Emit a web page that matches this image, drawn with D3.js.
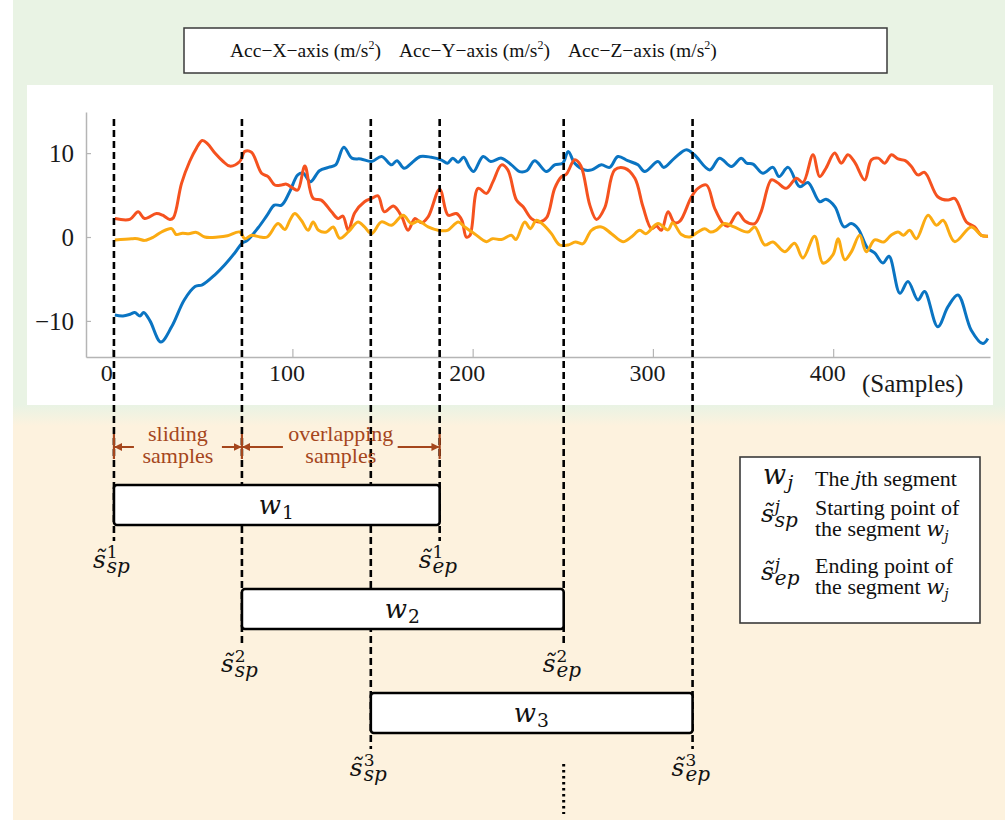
<!doctype html>
<html lang="en">
<head>
	<meta charset="UTF-8">
	<title>Sliding window segmentation</title>
	<script src="https://d3js.org/d3.v7.min.js"></script>
	<style>
		body { margin: 0; padding: 0; background: #fff; }
		svg { display: block; }
	</style>
</head>
<body>
	<div id="canvas"></div>
	<script>
		// Series: [sample, value]
		const accX = [[1.5,-9.3],[6,-9.4],[10,-9.2],[12.5,-9.0],[15.5,-9.4],[17.5,-9.0],[21,-10.0],[27,-12.5],[33,-10.7],[40,-7.5],[46,-5.9],[50,-5.7],[57,-4.5],[62.5,-3.3],[68,-1.9],[72,-0.75],[75,-0.4],[81,1.1],[86,2.6],[90,3.8],[94,3.8],[98.5,5.4],[103,7.4],[106,7.6],[110,6.6],[115,7.9],[120,8.3],[124,8.6],[128.5,10.7],[133,9.4],[138,9.3],[144,9.0],[149.5,9.6],[155,8.6],[158,9.1],[162,8.2],[166,8.8],[171,9.6],[177,9.5],[182.5,9.2],[186,8.8],[189,9.4],[192,8.9],[195,9.5],[198,8.4],[200.5,7.8],[205.8,9.6],[210,9.0],[216,9.4],[221.5,8.6],[226,7.8],[230,7.9],[234.4,9.1],[241,7.8],[245.5,8.6],[250,8.8],[253,10.2],[256.6,8.8],[262,8.0],[266,8.0],[271.4,8.6],[276,8.3],[280.6,9.6],[286,9.1],[291.7,8.6],[295.4,7.8],[302.8,9.0],[306,8.3],[312,9.4],[318.6,10.4],[323,9.8],[331.5,8.0],[337,9.4],[343.5,8.4],[349,9.4],[352,8.8],[355.5,8.7],[361,7.6],[366.6,8.3],[370,7.2],[375,8.3],[381.4,6.0],[386,6.5],[392.5,4.2],[396,4.5],[401,3.6],[406,1.2],[410,1.6],[413.8,1.0],[419,-1.3],[423,-1.9],[427.6,-3.1],[431,-2.3],[437,-6.7],[441.5,-5.3],[447,-7.5],[450.7,-6.5],[458,-10.7],[463.7,-8.3],[469.2,-6.9],[476.6,-11.1],[483,-12.7],[485.8,-12.1]];

		const accY = [[1.5,2.2],[9.8,2.1],[14.4,3.0],[18,2.2],[24.6,2.8],[28,2.6],[32,2.1],[34,2.3],[38.5,6.4],[43,9.0],[46.8,10.6],[50,11.5],[53,11.1],[57,10.0],[61.6,9.0],[65.3,8.45],[70.8,9.0],[73.6,10.2],[77.3,10.1],[82.9,7.6],[86.5,7.2],[90.2,6.2],[94,6.2],[96.7,6.3],[100.4,5.8],[103,5.6],[106.9,8.45],[111.5,4.6],[116,4.4],[121.7,3.0],[125.4,2.2],[128,2.5],[131,0.8],[134.6,2.9],[140,4.2],[144,4.6],[147.5,4.9],[151,3.0],[156,3.7],[160.5,2.5],[164.2,0.8],[168,2.2],[171.5,1.7],[175.3,2.4],[181.7,5.7],[186.4,2.6],[191,2.8],[194,2.0],[196.5,0.0],[198.5,0.2],[203,5.8],[207.7,5.2],[211.3,6.6],[216,8.6],[219.5,8.0],[224.3,4.4],[228,3.6],[232.6,2.2],[237.2,1.8],[241,2.3],[245.5,5.8],[249.3,7.2],[252,7.5],[256.6,9.2],[260,8.5],[265,3.8],[268.7,2.1],[273.3,3.5],[278.8,8.0],[284.4,8.2],[290,7.0],[294.5,3.6],[299.2,1.0],[302,1.3],[304.7,0.8],[308.4,3.0],[312,1.7],[315,1.9],[321.4,4.8],[325,5.8],[329.7,6.2],[334.3,3.4],[338.9,1.6],[341.7,1.3],[347.2,2.9],[351,1.9],[356.5,1.6],[360,3.0],[365.7,6.8],[369,6.5],[374,5.8],[379.6,7.0],[383.3,6.5],[388.8,9.8],[392.5,7.2],[396,8.2],[400.8,10.0],[404.5,8.8],[408.2,9.8],[412,8.9],[417.5,6.8],[421.2,9.2],[425,9.4],[428.6,8.8],[432.3,9.8],[436,9.3],[440,9.1],[443.4,8.4],[447,7.4],[450.7,7.7],[458,4.8],[463.7,4.4],[467.4,4.6],[473.9,1.8],[478.5,1.2],[482.2,0.2],[485.9,0.1]];

		const accZ = [[1.5,-0.35],[10.7,-0.2],[14,-0.2],[18,-0.4],[23,0.0],[27.4,0.6],[33,1.0],[35.5,0.3],[39,0.45],[42.5,0.4],[46.8,0.55],[51.4,0.0],[58.8,0.0],[64,0.15],[70.8,0.6],[73.6,-0.2],[77.3,0.2],[82,0.0],[86,0.0],[92,1.6],[95.8,0.9],[98.6,2.0],[101.3,2.8],[104.9,2.0],[108.7,0.8],[111.5,1.8],[114.5,0.8],[118.9,0.6],[122.6,1.2],[126.3,-0.15],[131,0.6],[136.4,1.8],[140,1.2],[143.9,0.4],[149.4,1.8],[155,1.4],[161.4,2.6],[166,1.6],[170,1.9],[175.3,1.2],[180.8,0.8],[186,0.8],[192,1.8],[195.6,1.2],[201,0.4],[207.7,-0.55],[211,-0.2],[216,-0.3],[221.5,0.2],[224,-0.3],[228.9,1.8],[232,1.0],[235.4,2.0],[239,1.5],[243.7,0.4],[248.3,-0.95],[253,-0.95],[257,-0.6],[261.2,-0.8],[265.9,0.8],[271.4,1.2],[277,0.4],[283.4,-0.55],[288,0.0],[292.7,0.8],[296,0.4],[302.8,1.6],[308.4,0.85],[311,1.7],[315.8,0.3],[320.4,0.0],[325,0.6],[328.7,1.0],[332,0.6],[335,0.8],[339.8,1.6],[345,1.2],[352.7,0.6],[356.5,1.2],[362,-0.95],[366.6,-0.6],[373.1,-1.75],[378.6,-0.75],[383.2,-2.5],[389.7,0.1],[394.3,-3.1],[399.9,-2.1],[402.7,-0.2],[406.4,-2.7],[410,-1.8],[414.7,0.2],[418.4,-1.75],[423,-0.35],[428,-0.6],[432.3,0.25],[436,0.6],[439,0.2],[442.4,0.8],[446.2,-0.2],[452.6,2.6],[457.3,1.4],[461,2.0],[467.4,-0.55],[476.6,1.2],[482.2,0.2],[485.8,0.1]];

		const seriesLabels = ['Acc\u2212X\u2212axis', 'Acc\u2212Y\u2212axis', 'Acc\u2212Z\u2212axis'];
		const seriesColors = ['#0a74c2', '#f5521f', '#fbab12'];
		const xTicks = [0, 100, 200, 300, 400];
		const yTicks = [-10, 0, 10];

		// Segments: start and end sample of each window w_j
		const winStart = [1, 72, 143.5];
		const winEnd = [181.7, 250.5, 322];
		const winIds = ['1', '2', '3'];

		const width = 1005;
		const height = 820;
		const serif = '"Liberation Serif", "Times New Roman", serif';
		const mathFont = '"DejaVu Serif", serif';
		const brown = '#a5461c';

		const svg = d3.select('#canvas')
			.append('svg')
			.attr('width', width)
			.attr('height', height);

		const defs = svg.append('defs');

		// Background: green on top, beige below
		const grad = defs.append('linearGradient')
			.attr('id', 'bg')
			.attr('x1', 0).attr('y1', 0).attr('x2', 0).attr('y2', 1);
		grad.append('stop').attr('offset', 405 / 820).attr('stop-color', '#e9f3e4');
		grad.append('stop').attr('offset', 426 / 820).attr('stop-color', '#fdf2de');

		defs.append('marker')
			.attr('id', 'arrow')
			.attr('viewBox', '0 0 10 10')
			.attr('refX', 9).attr('refY', 5)
			.attr('markerWidth', 4).attr('markerHeight', 4)
			.attr('markerUnits', 'strokeWidth')
			.attr('orient', 'auto')
			.append('path')
			.attr('d', 'M0,0L10,5L0,10z')
			.attr('fill', brown);

		svg.append('rect')
			.attr('x', 13).attr('y', 0)
			.attr('width', width - 13).attr('height', height)
			.attr('fill', 'url(#bg)');

		// White plot panel
		svg.append('rect')
			.attr('x', 27).attr('y', 85)
			.attr('width', 966).attr('height', 320)
			.attr('fill', '#fff');

		// Scales
		const x = d3.scaleLinear().domain([-14.5, 487]).range([86, 990]);
		const y = d3.scaleLinear().domain([-14.3, 14.9]).range([357, 112]);

		// X axis
		const xAxis = svg.append('g')
			.attr('transform', 'translate(0,357)')
			.call(d3.axisBottom(x).tickValues(xTicks).tickSize(-8).tickSizeOuter(0));
		xAxis.select('.domain').attr('stroke', '#b5b5b5').attr('stroke-width', 1.5);
		xAxis.selectAll('.tick line').attr('stroke', '#b5b5b5').attr('stroke-width', 1.2);
		xAxis.selectAll('.tick text')
			.attr('y', 24).attr('dy', null).attr('dx', -6)
			.attr('font-family', serif).attr('font-size', 24).attr('fill', '#1a1a1a');

		// Y axis
		const yAxis = svg.append('g')
			.attr('transform', 'translate(86,0)')
			.call(d3.axisLeft(y).tickValues(yTicks).tickSize(-5).tickSizeOuter(0)
				.tickFormat((d) => d < 0 ? '\u2212' + Math.abs(d) : d));
		yAxis.select('.domain').attr('stroke', '#b5b5b5').attr('stroke-width', 1.5);
		yAxis.selectAll('.tick line').attr('stroke', '#b5b5b5').attr('stroke-width', 1.2);
		yAxis.selectAll('.tick text')
			.attr('x', -12).attr('dy', '0.33em')
			.attr('font-family', serif).attr('font-size', 25).attr('fill', '#1a1a1a');

		svg.append('text')
			.attr('x', 862).attr('y', 392)
			.attr('font-family', serif).attr('font-size', 25).attr('fill', '#1a1a1a')
			.text('(Samples)');

		// Signal lines
		const line = d3.line()
			.x((d) => x(d[0]))
			.y((d) => y(d[1]))
			.curve(d3.curveCatmullRom.alpha(0.5));

		[accX, accY, accZ].forEach((s, i) => {
			svg.append('path')
				.datum(s)
				.attr('d', line)
				.attr('fill', 'none')
				.attr('stroke', seriesColors[i])
				.attr('stroke-width', 3)
				.attr('stroke-linejoin', 'round');
		});

		// Top legend
		svg.append('rect')
			.attr('x', 184).attr('y', 28)
			.attr('width', 703).attr('height', 45)
			.attr('fill', '#fff')
			.attr('stroke', '#3a3a3a').attr('stroke-width', 1.5);

		seriesLabels.forEach((lab, i) => {
			const t = svg.append('text')
				.attr('x', 230 + i * 169).attr('y', 57)
				.attr('font-family', serif).attr('font-size', 19.5).attr('fill', '#111');
			t.append('tspan').text(lab + ' (m/s');
			t.append('tspan').attr('font-size', 12).attr('dy', -8).text('2');
			t.append('tspan').attr('dy', 8).text(')');
		});

		// Window geometry
		const boxTop = (i) => 485 + i * 104;
		const boxH = 40;

		// Dashed boundaries of the windows
		winStart.forEach((s, i) => {
			[s, winEnd[i]].forEach((v) => {
				svg.append('line')
					.attr('x1', x(v)).attr('x2', x(v))
					.attr('y1', 119).attr('y2', boxTop(i) + boxH + 16)
					.attr('stroke', '#000')
					.attr('stroke-width', 2.6)
					.attr('stroke-dasharray', '7,4');
			});
		});

		// Math symbol with stacked sub/superscripts, kept in one text element
		function mathSym(g, x0, y0, base, sub, sup, size, subItalic, supItalic, subScale) {
			const t = g.append('text')
				.attr('font-family', mathFont)
				.attr('font-size', size).attr('fill', '#111');
			t.append('tspan')
				.attr('x', x0).attr('y', y0)
				.attr('font-style', 'italic')
				.text(base);
			const w = t.node().getComputedTextLength();
			if (sup) {
				t.append('tspan')
					.attr('x', x0 + w + 1).attr('y', y0 - size * 0.42)
					.attr('font-style', supItalic ? 'italic' : 'normal')
					.attr('font-size', size * 0.68)
					.text(sup);
			}
			if (sub) {
				t.append('tspan')
					.attr('x', x0 + w + 1).attr('y', y0 + size * 0.2)
					.attr('font-style', subItalic ? 'italic' : 'normal')
					.attr('font-size', size * (subScale || 0.72))
					.text(sub);
			}
		}

		// Window boxes and their labels
		winStart.forEach((s, i) => {
			const x0 = x(s);
			const x1 = x(winEnd[i]);
			svg.append('rect')
				.attr('x', x0).attr('y', boxTop(i))
				.attr('width', x1 - x0).attr('height', boxH)
				.attr('rx', 3)
				.attr('fill', '#fff')
				.attr('stroke', '#000').attr('stroke-width', 2.6);

			mathSym(svg, (x0 + x1) / 2 - 18, boxTop(i) + 29, 'w', winIds[i], null, 26, false, false, 0.72);

			mathSym(svg, x0 - 21, boxTop(i) + boxH + 43, 's\u0303', 'sp', winIds[i], 25, true, false, 0.8);
			mathSym(svg, x1 - 21, boxTop(i) + boxH + 43, 's\u0303', 'ep', winIds[i], 25, true, false, 0.8);
		});

		// Continuation dots
		svg.append('line')
			.attr('x1', x(winEnd[1])).attr('x2', x(winEnd[1]))
			.attr('y1', 764).attr('y2', 814)
			.attr('stroke', '#000').attr('stroke-width', 3)
			.attr('stroke-dasharray', '2.5,3.5');

		// Sliding / overlapping annotations
		const ann = svg.append('g');
		const annY = 447;
		[winStart[0], winStart[1], winEnd[0]].forEach((v) => {
			ann.append('line')
				.attr('x1', x(v)).attr('x2', x(v))
				.attr('y1', 434).attr('y2', 459)
				.attr('stroke', brown).attr('stroke-width', 2.2);
		});
		const arrows = [
			[x(winStart[0]) + 20, x(winStart[0]) + 1],
			[x(winStart[1]) - 20, x(winStart[1]) - 1],
			[x(winStart[1]) + 41, x(winStart[1]) + 1],
			[x(winEnd[0]) - 42, x(winEnd[0]) - 1]
		];
		arrows.forEach((a) => {
			ann.append('line')
				.attr('x1', a[0]).attr('x2', a[1])
				.attr('y1', annY).attr('y2', annY)
				.attr('stroke', brown).attr('stroke-width', 2)
				.attr('marker-end', 'url(#arrow)');
		});
		const annText = [
			{ cx: (x(winStart[0]) + x(winStart[1])) / 2, lines: ['sliding', 'samples'] },
			{ cx: (x(winStart[1]) + x(winEnd[0])) / 2, lines: ['overlapping', 'samples'] }
		];
		annText.forEach((a) => {
			a.lines.forEach((l, k) => {
				ann.append('text')
					.attr('x', a.cx).attr('y', 441 + k * 22)
					.attr('text-anchor', 'middle')
					.attr('font-family', serif).attr('font-size', 22)
					.attr('fill', brown)
					.text(l);
			});
		});

		// Right legend box
		const leg = svg.append('g');
		leg.append('rect')
			.attr('x', 740).attr('y', 457)
			.attr('width', 240).attr('height', 166)
			.attr('fill', '#fff')
			.attr('stroke', '#3a3a3a').attr('stroke-width', 1.6);

		mathSym(leg, 763, 484, 'w', 'j', null, 27, true, false, 0.72);
		const t1 = leg.append('text')
			.attr('x', 815).attr('y', 486)
			.attr('font-family', serif).attr('font-size', 22).attr('fill', '#111');
		t1.append('tspan').text('The ');
		t1.append('tspan').attr('font-family', mathFont).attr('font-style', 'italic').attr('font-size', 20).text('j');
		t1.append('tspan').text('th segment');

		const legRows = [
			{ sub: 'sp', y: 522, lines: ['Starting point of', 'the segment '] },
			{ sub: 'ep', y: 580, lines: ['Ending point of', 'the segment '] }
		];
		legRows.forEach((r) => {
			mathSym(leg, 761, r.y, 's\u0303', r.sub, 'j', 25, true, true, 0.8);
			leg.append('text')
				.attr('x', 815).attr('y', r.y - 7)
				.attr('font-family', serif).attr('font-size', 22).attr('fill', '#111')
				.text(r.lines[0]);
			const t = leg.append('text')
				.attr('x', 815).attr('y', r.y + 14)
				.attr('font-family', serif).attr('font-size', 22).attr('fill', '#111');
			t.append('tspan').text(r.lines[1]);
			t.append('tspan').attr('font-family', mathFont).attr('font-style', 'italic').attr('font-size', 21).text('w');
			t.append('tspan').attr('font-family', mathFont).attr('font-style', 'italic').attr('font-size', 14).attr('dy', 5).text('j');
		});
	</script>
</body>
</html>
